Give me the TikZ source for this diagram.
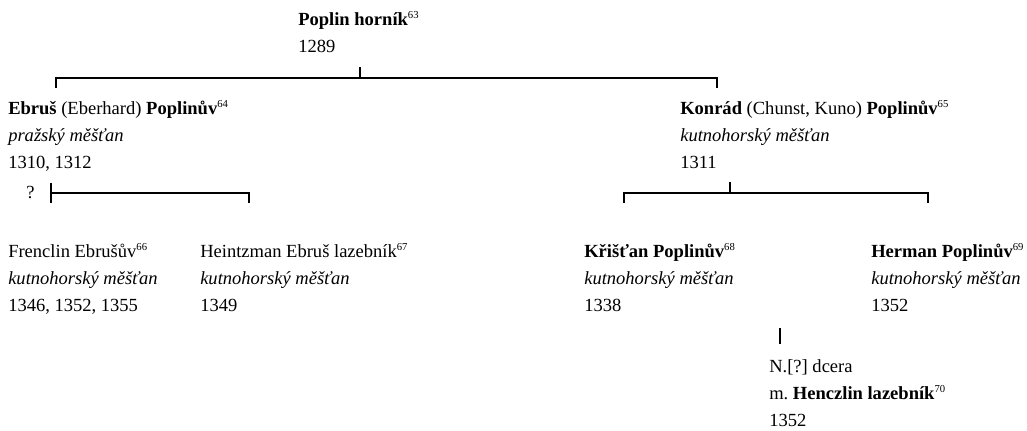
\documentclass[tikz,border=0pt]{standalone}
\usepackage{fontspec}
\setmainfont{Liberation Serif}
\usepackage{tikz}
\usetikzlibrary{positioning}

\newcommand{\fnref}[1]{\textsuperscript{\mdseries\fontsize{8pt}{8pt}\selectfont #1}}

\begin{document}
\begin{tikzpicture}[
			x=0.75pt, y=-0.75pt,
			person/.style={anchor=base west, align=left, inner sep=0pt,
				font=\fontsize{13.9pt}{20.25pt}\selectfont\frenchspacing},
			tree/.style={draw=black, line width=0.9pt},
			]
			\useasboundingbox (0,0) rectangle (1027,430);
			
			\node[person] (poplin) at (298,52) {\textbf{Poplin horník}\fnref{63}\\1289};
			\node[person] (ebrus) at (8,168) {\textbf{Ebruš} (Eberhard) \textbf{Poplinův}\fnref{64}\\\textit{pražský měšťan}\\1310, 1312};
			\node[person] (konrad) at (680,168) {\textbf{Konrád} (Chunst, Kuno) \textbf{Poplinův}\fnref{65}\\\textit{kutnohorský měšťan}\\1311};
			\node[person] (unsure) at (26,198) {?};
			\node[person] (frenclin) at (8,311) {Frenclin Ebrušův\fnref{66}\\\textit{kutnohorský měšťan}\\1346, 1352, 1355};
			\node[person] (heintzman) at (200,311) {Heintzman Ebruš lazebník\fnref{67}\\\textit{kutnohorský měšťan}\\1349};
			\node[person] (kristan) at (584,311) {\textbf{Křišťan Poplinův}\fnref{68}\\\textit{kutnohorský měšťan}\\1338};
			\node[person] (herman) at (871,311) {\textbf{Herman Poplinův}\fnref{69}\\\textit{kutnohorský měšťan}\\1352};
			\node[person] (dcera) at (769,426) {N.[?] dcera\\m. \textbf{Henczlin lazebník}\fnref{70}\\1352};
			
			\coordinate (poplin-d) at (360,67);
			\coordinate (ebrus-u) at (56,88);
			\coordinate (konrad-u) at (717,88);
			\coordinate (ebrus-d) at (51,183);
			\coordinate (heintzman-u) at (249,203);
			\coordinate (konrad-d) at (730,182);
			\coordinate (kristan-u) at (624,203);
			\coordinate (herman-u) at (928,203);
			\coordinate (dcera-u) at (780,328);
			
			\draw[tree] (poplin-d) -- ++(0,11);
			\draw[tree] (ebrus-u) -- ++(0,-10) -| (konrad-u);
			\draw[tree] (ebrus-d) -- ++(0,20);
			\draw[tree] (ebrus-d) ++(0,10) -| (heintzman-u);
			\draw[tree] (konrad-d) -- ++(0,11);
			\draw[tree] (kristan-u) -- ++(0,-10) -| (herman-u);
			\draw[tree, line width=1.6pt] (dcera-u) -- ++(0,16);
			
		\end{tikzpicture}
\end{document}
